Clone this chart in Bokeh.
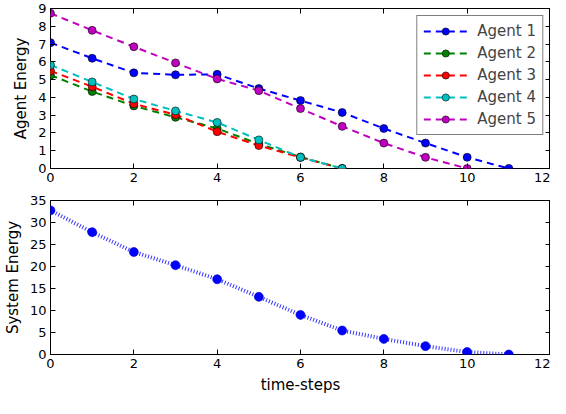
from bokeh.plotting import figure
from bokeh.layouts import column
from bokeh.models import LinearAxis, Range1d, FixedTicker, Legend, LegendItem
from bokeh.embed import file_html
from bokeh.resources import INLINE

steps = list(range(12))
agent_names = ["Agent 1", "Agent 2", "Agent 3", "Agent 4", "Agent 5"]
agent1 = [7.08, 6.2, 5.38, 5.27, 5.3, 4.5, 3.82, 3.15, 2.25, 1.43, 0.63, 0.0]
agent2 = [5.25, 4.33, 3.52, 2.88, 2.25, 1.38, 0.65, 0.0]
agent3 = [5.49, 4.6, 3.64, 3.03, 2.07, 1.29, 0.62, 0.0]
agent4 = [5.82, 4.87, 3.91, 3.24, 2.59, 1.61, 0.63, 0.0]
agent5 = [8.73, 7.77, 6.85, 5.94, 5.04, 4.38, 3.37, 2.37, 1.43, 0.63, 0.0]
system_energy = [32.75, 27.8, 23.3, 20.3, 17.1, 13.1, 9.0, 5.45, 3.55, 1.9, 0.57, 0.0]
agent_series = [agent1, agent2, agent3, agent4, agent5]
agent_colors = ["#0000ff", "#008000", "#ff0000", "#00bfbf", "#bf00bf"]

xticks = [0, 2, 4, 6, 8, 10, 12]
top_yticks = list(range(10))
bottom_yticks = [0, 5, 10, 15, 20, 25, 30, 35]

FONT = "DejaVu Sans"
W = 550


def make_axis(ticks, labels=True, label_text=None):
    ax = LinearAxis(ticker=FixedTicker(ticks=ticks), major_tick_in=5, major_tick_out=0,
                    minor_tick_line_color=None, axis_line_color=None)
    ax.major_label_text_font = FONT
    ax.major_label_text_font_size = "13px"
    ax.major_label_text_color = "black"
    ax.major_label_standoff = 4
    ax.axis_label_text_font = FONT
    ax.axis_label_text_font_size = "15px"
    ax.axis_label_text_font_style = "normal"
    ax.axis_label_text_color = "black"
    ax.axis_label_standoff = 5
    if label_text:
        ax.axis_label = label_text
    if not labels:
        ax.major_label_overrides = {t: "" for t in ticks}
        ax.major_label_standoff = 0
    return ax


def make_fig(height, yr, yticks, ylabel, xlabel=None):
    p = figure(width=W, height=height, output_backend="svg", toolbar_location=None,
               x_range=Range1d(0, 12), y_range=Range1d(*yr),
               x_axis_location=None, y_axis_location=None,
               min_border_left=0, min_border_right=0, min_border_top=0, min_border_bottom=0)
    p.outline_line_color = "black"
    p.outline_line_width = 1
    p.xgrid.visible = False
    p.ygrid.visible = False
    p.add_layout(make_axis(yticks, True, ylabel), "left")
    p.add_layout(make_axis(xticks, True, xlabel), "below")
    p.add_layout(make_axis(yticks, False), "right")
    p.add_layout(make_axis(xticks, False), "above")
    return p


H = 154
p1 = make_fig(8 + H + 22, (0, 9), top_yticks, "Agent Energy")
p1.min_border_top = 8

items = []
for name, ys, c in zip(agent_names, agent_series, agent_colors):
    xs = steps[:len(ys)]
    l = p1.line(xs, ys, line_color=c, line_width=2, line_dash="7 5")
    s = p1.scatter(xs, ys, size=8, fill_color=c, line_color="black", line_width=0.6)
    items.append(LegendItem(label=name, renderers=[l, s]))

leg = Legend(items=items, location="top_right")
leg.label_text_font = FONT
leg.label_text_font_size = "15px"
leg.border_line_color = "black"
leg.border_line_width = 1
leg.background_fill_alpha = 1
leg.glyph_width = 44
leg.glyph_height = 18
leg.spacing = 4
leg.padding = 6
leg.margin = 7
leg.label_standoff = 10
p1.add_layout(leg)

p2 = make_fig(16 + H + 42, (0, 35), bottom_yticks, "System Energy", "time-steps")
p2.min_border_top = 16
p2.line(steps, system_energy, line_color="#0000ff", line_width=4, line_dash="1 2", line_alpha=0.8)
p2.scatter(steps, system_energy, size=9, fill_color="#0000ff", line_color="#0000cc", line_width=0.6)

layout = column(p1, p2, spacing=0)
open("out.html", "w").write(file_html(layout, INLINE))
